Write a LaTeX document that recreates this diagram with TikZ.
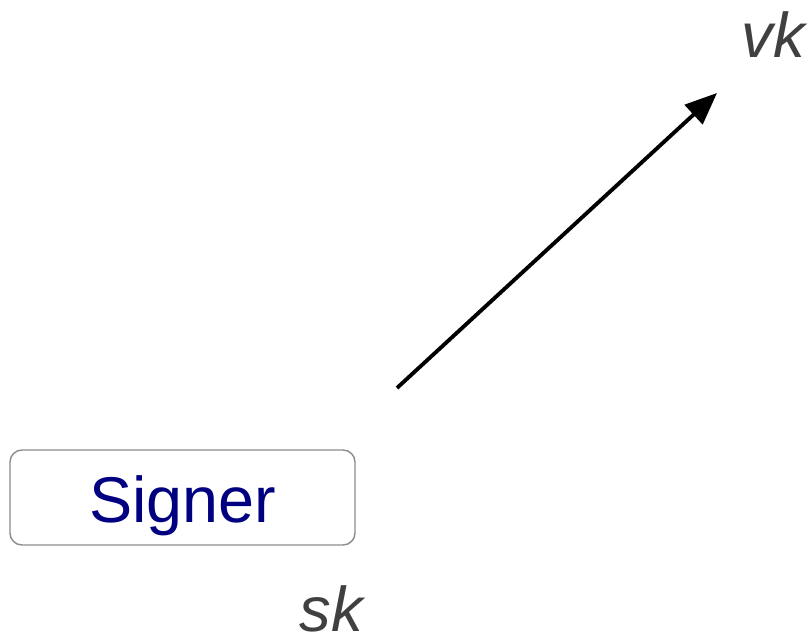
\documentclass[tikz,border=0pt]{standalone}
\usepackage{fontspec}
\setmainfont{Liberation Sans}
\usepackage{xcolor}
\usetikzlibrary{arrows.meta}
\definecolor{signerblue}{HTML}{000080}
\definecolor{keygray}{HTML}{404040}
\newcommand{\keyLabel}[4]{%
    \node[keylabel] (#1) at (#2,#3) {#4};
}
\begin{document}
\begin{tikzpicture}[
    keylabel/.style={anchor=base, inner sep=0pt, text=keygray, font=\fontsize{18}{20}\selectfont\itshape},
    partybox/.style={draw=gray!90, rounded corners=0.12cm, minimum width=3.45cm, minimum height=0.95cm,
        inner sep=0pt, text height=0.62cm, text depth=0.13cm, text=signerblue,
        font=\fontsize{18.4}{20}\selectfont}
]
    \useasboundingbox (0,0) rectangle (8.12,6.38);
    \node[partybox] (signer) at (1.825, 1.405) {Signer};
    \keyLabel{vk}{7.73}{5.80}{vk}
    \keyLabel{sk}{3.31}{0.07}{sk}
    \coordinate (from) at (3.97, 2.50);
    \coordinate (to) at (7.17, 5.45);
    \draw[line width=1.1pt, -{Triangle[length=0.32cm, width=0.26cm]}] (from) -- (to);
\end{tikzpicture}
\end{document}
